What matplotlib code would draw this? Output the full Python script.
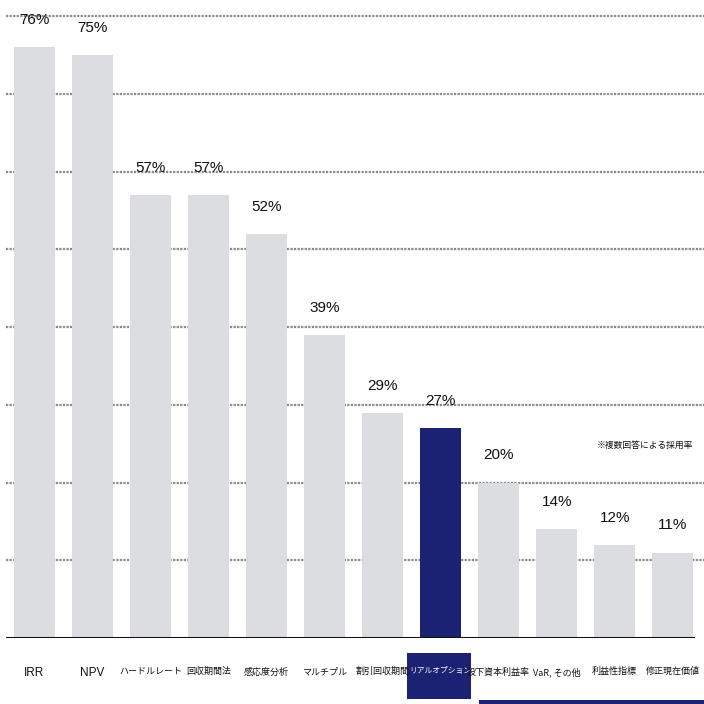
import matplotlib
matplotlib.use("Agg")
import matplotlib.pyplot as plt
from matplotlib.patches import Rectangle
import matplotlib.transforms as mtransforms

plt.rcParams['font.family'] = ['Noto Sans CJK JP', 'DejaVu Sans']

labels = ["IRR", "NPV", "ハードルレート", "回収期間法", "感応度分析", "マルチプル",
          "割引回収期間", "リアルオプション", "投下資本利益率", "VaR, その他", "利益性指標", "修正現在価値"]
values = [76, 75, 57, 57, 52, 39, 29, 27, 20, 14, 12, 11]
highlight = "リアルオプション"
note = "※複数回答による採用率"

gray = "#dcdde0"
navy = "#1b2173"

fig = plt.figure(figsize=(7.04, 7.04), dpi=100)
ax = fig.add_axes([6 / 704, 66 / 704, 698 / 704, 624 / 704])

x = list(range(len(labels)))
colors = [navy if l == highlight else gray for l in labels]
ax.bar(x, values, width=0.71, color=colors, zorder=2)

ax.set_xlim(-0.491, 11.54)
ax.set_ylim(0, 80.3)
ax.set_yticks(range(10, 81, 10))
ax.yaxis.grid(True, color="#8a8a8a", linestyle=(0, (1, 0.6)), linewidth=1.6)
ax.set_axisbelow(True)
ax.tick_params(axis="y", length=0, labelleft=False)
for s in ax.spines.values():
    s.set_visible(False)
ax.axhline(0, xmin=0, xmax=0.984, color="#111111", linewidth=2.2, zorder=3)

# value labels
for xi, v in zip(x, values):
    ax.annotate(f"{v}%", (xi, v), xytext=(0, 19.5), textcoords="offset points",
                ha="center", va="center", fontsize=11, color="#111111",
                family=["Liberation Sans", "DejaVu Sans"])

# category labels
ax.set_xticks(x)
ax.set_xticklabels(labels, fontsize=6.5)
ax.tick_params(axis="x", length=0, pad=21)
for tl in ax.get_xticklabels():
    t = tl.get_text()
    tl.set_color("#111111")
    if t == highlight:
        tl.set_color("white")
        tl.set_fontsize(5.6)
    elif t.isascii():
        tl.set_fontsize(8.5)
        tl.set_family(["Liberation Sans", "DejaVu Sans"])

# highlight box behind label
hi = labels.index(highlight)
trans = mtransforms.blended_transform_factory(ax.transData, ax.transAxes)
ax.add_patch(Rectangle((hi - 0.58, -0.0978), 1.1, 0.0737, transform=trans,
                       facecolor=navy, edgecolor="none", clip_on=False, zorder=0.3))

ax.text(0.984, 0.308, note, transform=ax.transAxes, ha="right", va="center",
        fontsize=6.3, color="#111111")

fig.patches.append(Rectangle((479 / 704, 0), 225 / 704, 4 / 704,
                             transform=fig.transFigure, facecolor=navy,
                             edgecolor="none"))

fig.savefig("out.png", dpi=100)
